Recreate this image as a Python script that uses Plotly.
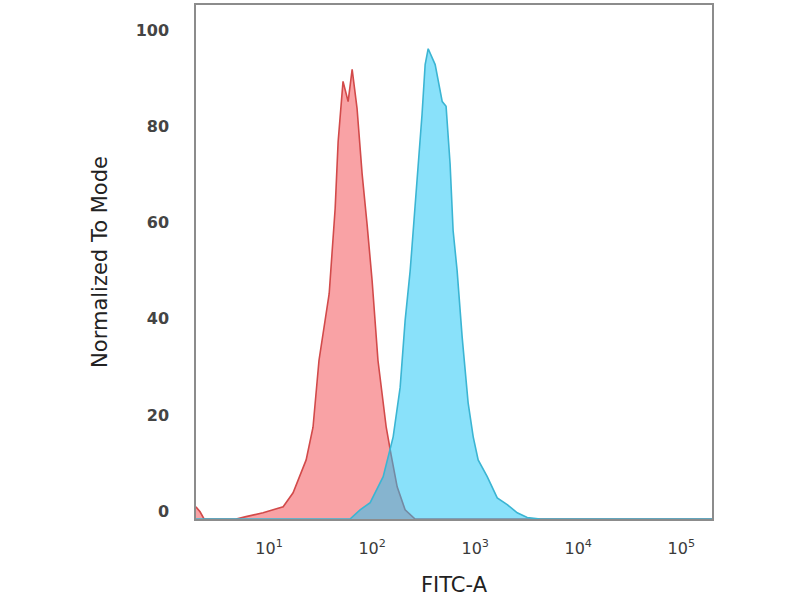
import plotly.graph_objects as go

# ---- data (FITC-A intensity vs. normalized-to-mode counts) ----
red_x = [1.95, 2.14, 2.34, 4.79, 5.98, 8.75, 13.7, 17.1, 22.9, 26.7, 30.5, 34.2, 38.3, 39.1,
         43.8, 46.8, 51.2, 52.2, 58.5, 64.0, 71.4, 80.0, 89.3, 100, 114, 137, 153, 175, 209,
         261, 200000]
red_y = [2.55, 1.5, 0, 0, 0.5, 1.3, 2.55, 5.45, 12.3, 19.1, 33.0, 39.9, 46.9, 49.6,
         64.7, 78.6, 89.6, 91.1, 86.9, 93.6, 85.5, 71.8, 61.4, 49.6, 33.0, 19.1, 13.3, 6.7, 1.9,
         0, 0]

blue_x = [1.95, 61.1, 76.4, 95.7, 128, 160, 187, 209, 234, 274, 305, 327, 350, 409, 457, 479,
          522, 571, 611, 668, 748, 855, 957, 1069, 1309, 1637, 2046, 2559, 3199, 4276, 200000]
blue_y = [0, 0, 1.9, 3.4, 8.8, 17.1, 27.4, 41.3, 51.7, 70.3, 84.2, 94.6, 97.9, 94.6, 89.0, 86.9,
          85.9, 73.9, 60.0, 51.7, 37.8, 24.1, 17.1, 12.3, 8.8, 4.4, 3.0, 1.3, 0.3, 0, 0]

x_tickvals = [10, 100, 1000, 10000, 100000]
x_ticktext = ["10<sup>1</sup>", "10<sup>2</sup>", "10<sup>3</sup>", "10<sup>4</sup>", "10<sup>5</sup>"]
y_tickvals = [0, 20, 40, 60, 80, 100]

fig = go.Figure()
fig.add_trace(go.Scatter(
    x=red_x, y=red_y, mode="lines", fill="tozeroy",
    line=dict(color="#d24a4a", width=1.6),
    fillcolor="rgba(244,70,76,0.5)", showlegend=False, hoverinfo="skip"))
fig.add_trace(go.Scatter(
    x=blue_x, y=blue_y, mode="lines", fill="tozeroy",
    line=dict(color="#3bb5d3", width=1.6),
    fillcolor="rgba(28,198,245,0.52)", showlegend=False, hoverinfo="skip"))

fig.update_layout(
    width=800, height=600,
    margin=dict(l=196, r=88, t=3, b=81),
    paper_bgcolor="white", plot_bgcolor="white",
    font=dict(family="DejaVu Sans", color="#333333"),
)
fig.update_xaxes(
    type="log", range=[0.291, 5.298],
    tickvals=x_tickvals, ticktext=x_ticktext,
    tickfont=dict(size=16, color="#3a3a3a"),
    showgrid=False, zeroline=False,
    showline=True, mirror=True, linecolor="#8c8c8c", linewidth=1.5,
    ticks="", ticklabelstandoff=14,
    title=dict(text="FITC-A", font=dict(size=21, color="#222222"), standoff=20),
)
fig.update_yaxes(
    range=[0, 107.0],
    tickvals=y_tickvals,
    tickfont=dict(size=16, color="#444444", weight="bold"),
    showgrid=False, zeroline=False,
    showline=True, mirror=True, linecolor="#8c8c8c", linewidth=1.5,
    ticks="", ticklabelstandoff=22, ticklabelshift=-8,
    title=dict(text="Normalized To Mode", font=dict(size=21, color="#222222"), standoff=22),
)

fig.write_html("out.html", config={"displayModeBar": False},
               post_script="document.body.style.margin='0';")
